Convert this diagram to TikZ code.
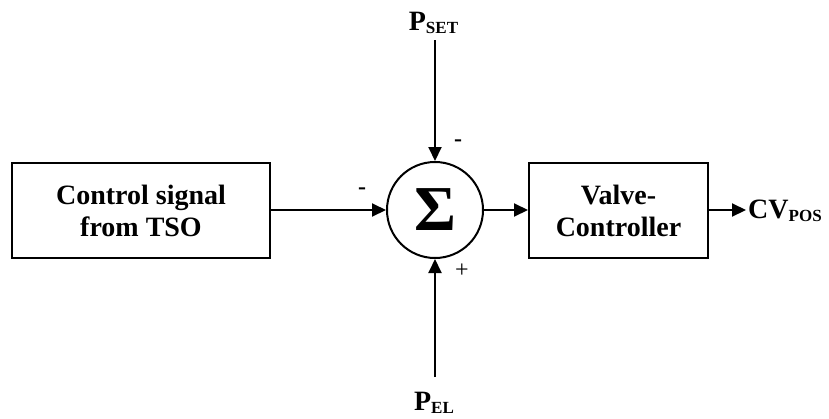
\documentclass[tikz,border=0pt]{standalone}
\usepackage{fontspec}
\setmainfont{Liberation Serif}
\usetikzlibrary{arrows.meta}
\newcommand{\sbs}[1]{\raisebox{-3.5pt}{\fontsize{17}{17}\selectfont #1}}
\begin{document}
\begin{tikzpicture}[x=1pt,y=-1pt,
  blk/.style={draw,line width=2pt,minimum height=95pt,align=center,inner sep=0pt,font=\fontsize{28}{32}\selectfont\bfseries},
  sig/.style={->,line width=2pt,>={Triangle[length=14pt,width=13pt]}},
  lab/.style={font=\fontsize{28}{30}\selectfont\bfseries,inner sep=0pt},
  sgn/.style={font=\fontsize{24}{24}\selectfont,inner sep=0pt}]
\useasboundingbox (0,0) rectangle (829,418);
\node[blk,minimum width=258pt] (tso) at (141,210.5) {Control signal\\from TSO};
\node[blk,minimum width=179pt] (valve) at (618.5,210.5) {Valve-\\Controller};
\node[draw,circle,line width=2pt,minimum size=96pt,inner sep=0pt] (sum) at (435,210) {};
\node[font=\fontsize{64}{64}\selectfont\bfseries] (sigma) at (sum.center) {Σ};
\node[lab,anchor=base] (pset) at (433.5,30) {P\sbs{SET}};
\node[lab,anchor=base] (pel) at (434,410) {P\sbs{EL}};
\node[lab,anchor=base west] (cv) at (748,218) {CV\sbs{POS}};
\coordinate (ptop) at (435,40);
\coordinate (pbot) at (435,377);
\coordinate (cvin) at (746,210);
\draw[sig] (tso.east |- sum.west) -- (sum.west);
\draw[sig] (ptop) -- (sum.north);
\draw[sig] (pbot) -- (sum.south);
\draw[sig] (sum.east) -- (valve.west |- sum.east);
\draw[sig] (valve.east |- cvin) -- (cvin);
\node[sgn] (m1) at (362,191) {\bfseries -};
\node[sgn] (m2) at (458,143) {\bfseries -};
\node[sgn] (p1) at (462,271) {+};
\end{tikzpicture}
\end{document}
